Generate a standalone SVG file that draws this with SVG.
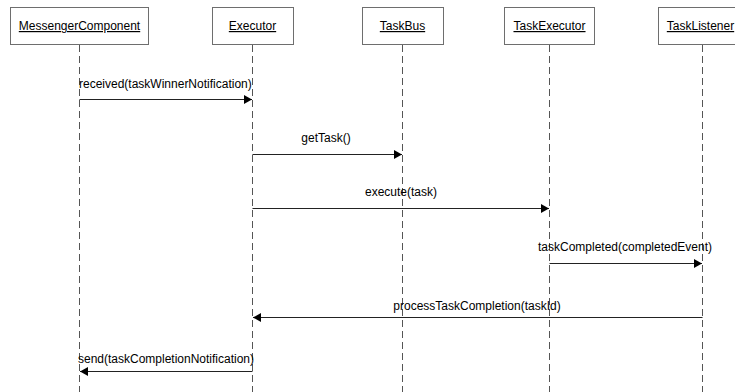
<svg xmlns="http://www.w3.org/2000/svg" width="735" height="392" viewBox="0 0 735 392">
<style>
.box{fill:#fff;stroke:#6e6e6e;stroke-width:1}
.life{stroke:#555;stroke-width:1;stroke-dasharray:7,4;fill:none}
.msg{stroke:#222;stroke-width:1;fill:none}
text{font-family:"Liberation Sans",Arial,sans-serif;font-size:12px;fill:#000}
.name{text-decoration:underline;text-anchor:middle}
</style>
<defs>
<marker id="arr" markerWidth="9" markerHeight="9" refX="8" refY="4.5" orient="auto" markerUnits="userSpaceOnUse">
<path d="M0,0 L8,4.5 L0,9 Z" fill="#000"/>
</marker>
</defs>
<g id="lifelines">
<line class="life" x1="79.5" y1="45" x2="79.5" y2="392"/>
<line class="life" x1="252.5" y1="45" x2="252.5" y2="392"/>
<line class="life" x1="402.5" y1="45" x2="402.5" y2="392"/>
<line class="life" x1="549.5" y1="45" x2="549.5" y2="392"/>
<line class="life" x1="702.5" y1="45" x2="702.5" y2="392"/>
</g>
<g id="MessengerComponent"><rect class="box" x="10.5" y="7.5" width="138" height="37"/><text class="name" x="79.5" y="30">MessengerComponent</text></g>
<g id="Executor"><rect class="box" x="212.5" y="7.5" width="81" height="37"/><text class="name" x="252.5" y="30">Executor</text></g>
<g id="TaskBus"><rect class="box" x="362.5" y="7.5" width="81" height="37"/><text class="name" x="402.5" y="30">TaskBus</text></g>
<g id="TaskExecutor"><rect class="box" x="504.5" y="7.5" width="90" height="37"/><text class="name" x="549.5" y="30">TaskExecutor</text></g>
<g id="TaskListener"><rect class="box" x="658.5" y="7.5" width="90" height="37"/><text class="name" x="700.5" y="30">TaskListener</text></g>
<g id="connectors">
<line class="msg" x1="79.5" y1="99.5" x2="252" y2="99.5" marker-end="url(#arr)"/>
<text x="79" y="88">received(taskWinnerNotification)</text>
<line class="msg" x1="252.5" y1="154.5" x2="402" y2="154.5" marker-end="url(#arr)"/>
<text x="326" y="142" text-anchor="middle">getTask()</text>
<line class="msg" x1="252.5" y1="208.5" x2="549" y2="208.5" marker-end="url(#arr)"/>
<text x="401" y="196" text-anchor="middle">execute(task)</text>
<line class="msg" x1="549.5" y1="263.5" x2="702" y2="263.5" marker-end="url(#arr)"/>
<text x="625" y="251" text-anchor="middle">taskCompleted(completedEvent)</text>
<line class="msg" x1="702.5" y1="317.5" x2="253" y2="317.5" marker-end="url(#arr)"/>
<text x="477" y="310" text-anchor="middle">processTaskCompletion(taskId)</text>
<line class="msg" x1="252.5" y1="371.5" x2="80" y2="371.5" marker-end="url(#arr)"/>
<text x="166" y="363" text-anchor="middle">send(taskCompletionNotification)</text>
</g>
</svg>
